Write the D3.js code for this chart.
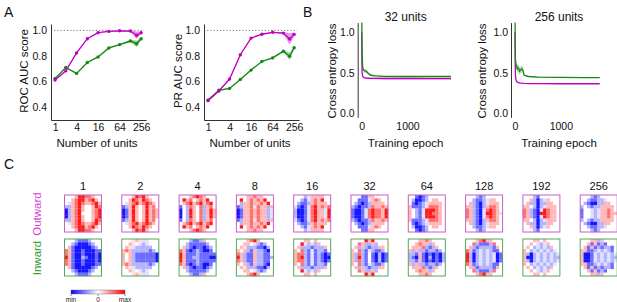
<!DOCTYPE html>
<html>
<head>
<meta charset="utf-8">
<script src="https://cdn.jsdelivr.net/npm/d3@7"></script>
<style>
  body { margin: 0; background: #fff; }
  svg { display: block; font-family: "Liberation Sans", Arial, sans-serif; }
</style>
</head>
<body>
<svg id="fig" width="617" height="302"></svg>
<script>
// ---- data ----
const unitCounts = [1, 2, 4, 8, 16, 32, 64, 128, 192, 256];
const unitTicks = [1, 4, 16, 64, 256];
const scoreTicks = [0.4, 0.6, 0.8, 1.0];

const rocOutward = [0.612, 0.684, 0.824, 0.935, 0.982, 0.992, 0.997, 0.995, 0.962, 0.982];
const rocOutwardSd = [0.004, 0.004, 0.004, 0.004, 0.003, 0.003, 0.003, 0.006, 0.03, 0.009];
const rocInward = [0.625, 0.71, 0.664, 0.749, 0.793, 0.863, 0.889, 0.917, 0.896, 0.935];
const rocInwardSd = [0.004, 0.004, 0.004, 0.004, 0.004, 0.004, 0.005, 0.01, 0.025, 0.01];

const prOutward = [0.451, 0.527, 0.62, 0.81, 0.94, 0.97, 0.985, 0.979, 0.933, 0.969];
const prOutwardSd = [0.004, 0.004, 0.004, 0.005, 0.004, 0.003, 0.003, 0.008, 0.045, 0.015];
const prInward = [0.457, 0.532, 0.547, 0.617, 0.69, 0.757, 0.785, 0.837, 0.798, 0.865];
const prInwardSd = [0.004, 0.004, 0.004, 0.004, 0.004, 0.004, 0.006, 0.01, 0.03, 0.012];

const lossTicks = [0, 0.5, 1.0];
const epochTicks = [0, 1000];

const epochs32 = [0, 5, 10, 20, 30, 50, 75, 100, 150, 200, 300, 500, 1000, 1500, 1950];
const loss32Inward = [1.4, 1.0, 0.75, 0.58, 0.55, 0.53, 0.52, 0.52, 0.49, 0.47, 0.462, 0.457, 0.455, 0.455, 0.455];
const loss32InwardSd = [0.02, 0.02, 0.02, 0.02, 0.02, 0.025, 0.025, 0.02, 0.012, 0.008, 0.005, 0.005, 0.005, 0.005, 0.005];
const loss32Outward = [1.0, 0.6, 0.5, 0.46, 0.45, 0.44, 0.437, 0.435, 0.433, 0.432, 0.431, 0.43, 0.43, 0.429, 0.429];
const loss32OutwardSd = [0.01, 0.01, 0.01, 0.008, 0.008, 0.008, 0.008, 0.01, 0.01, 0.01, 0.01, 0.012, 0.012, 0.012, 0.012];

const epochs256 = [0, 5, 10, 20, 30, 50, 75, 100, 150, 175, 200, 300, 500, 1000, 1500, 1850];
const loss256Inward = [1.4, 0.9, 0.66, 0.58, 0.6, 0.55, 0.56, 0.52, 0.55, 0.53, 0.47, 0.455, 0.447, 0.443, 0.442, 0.442];
const loss256InwardSd = [0.02, 0.03, 0.04, 0.04, 0.05, 0.05, 0.05, 0.05, 0.04, 0.04, 0.01, 0.006, 0.005, 0.005, 0.005, 0.005];
const loss256Outward = [1.0, 0.6, 0.47, 0.42, 0.4, 0.385, 0.378, 0.375, 0.372, 0.371, 0.37, 0.368, 0.366, 0.365, 0.365, 0.365];
const loss256OutwardSd = [0.01, 0.01, 0.008, 0.006, 0.005, 0.005, 0.004, 0.004, 0.004, 0.004, 0.004, 0.004, 0.004, 0.004, 0.004, 0.004];

// receptive field maps, 11x11, B b l w . q p r R = -1 .. +1
const mapLevels = { B: -0.92, b: -0.58, l: -0.3, w: -0.12, ".": 0, q: 0.12, p: 0.28, r: 0.56, R: 0.9 };
const mapLabels = ["1", "2", "4", "8", "16", "32", "64", "128", "192", "256"];

const outwardMaps = [
  ["...pRRrrp..", "..prRRprRp.", ".wprRrpprRp", "llprRp..pRr", "BlprRp..prR", "BlprR...prR", "BlprRp..prR", "llprRp..pRr", ".wprRrpprRp", "..prRRprRp.", "...pRRrrp.."],
  ["...pRrRp...", "..pRrpRrp..", ".wprRprRrp.", "blpRp.pRpr.", "BbpRp.pRprp", "BbpRp.pRprp", "BbpRp.pRprp", "blpRp.pRpr.", ".wprRprRrp.", "..pRrpRrp..", "...pRrRp..."],
  ["...prRrp...", ".Rpr.prpR..", ".prRprRprR.", "b.lrp.rlpr.", "B.lRp.rlpRp", "B.lRp.rlpRp", "B.lRp.rlpRp", "b.lrp.rlpr.", ".prRprRprR.", ".Rpr.prpR..", "...prRrp..."],
  ["...pprpp...", ".R.prprpR..", ".lpprpprpR.", "blpprqrpplp", "Bbpprprpplw", "Bbpprprpplw", "Bbpprprpplw", "blpprqrpplp", ".lpprpprpR.", ".R.prprpR..", "...pprpp..."],
  ["...lwpppp..", "..lbwprpR..", ".lbblprppp.", "wbBbwrRprpr", "lBBbwrRppwR", "lBBbwrRppwR", "lBBbwrRppwR", "wbBbwrRprpr", ".lbblprppp.", "..lbwprpR..", "...lwpppp.."],
  ["...bbpp....", "..bbbwprp..", ".lbBblpppp.", "lbBbblrpprp", "bBBbwrRrrpR", "bBBbwrRrrpR", "bBBbwrRrrpR", "lbBbblrpprp", ".lbBblpppp.", "..bbbwprp..", "...bbpp...."],
  ["..bBbl.....", ".lBBbl.pp..", ".bBblwpppp.", "pbbblwrrrp.", "p.lbwRRRrp.", "p.lbwRRrrp.", "p.lbwRRRrp.", "pbbblwrrrp.", ".bBblwpppp.", ".lBBbl.pp..", "..bBbl....."],
  ["...lbl.....", "..lbblwpp..", ".plbBlwppp.", "pplbBlprrp.", "rplbBwrRrp.", "rplbBwRRrpw", "rplbBwrRrp.", "pplbBlprrp.", ".plbBlwppp.", "..lbblwpp..", "...lbl....."],
  ["...lb......", "..plBlwp...", ".pllBllpp..", "pp.lBlwppp.", "rplbBwRrpp.", "rplbBRRrpp.", "rplbBwRrpp.", "pp.lBlwppp.", ".pllBllpp..", "..plBlwp...", "...lb......"],
  ["...lbl.....", "..lbbllw...", ".lbBBllpp..", "l.lbllpppp.", "b..wlwpprp.", "b..wlwpprpp", "b..wlwpprp.", "l.lbllpppp.", ".lbBBllpp..", "..lbbllw...", "...lbl....."]
];

const inwardMaps = [
  ["...lbbbl...", "..lbBBBbl..", ".pbBBBBBbl.", "rpbBBbBBBbb", "rpbBBbBBBbB", "RpbBBlbBBbB", "rpbBBbBBBbB", "rpbBBbBBBbb", ".pbBBBBBbl.", "..lbBBBbl..", "...lbbbl..."],
  ["...qpqww...", "..pq.wlw...", ".pqwlllll..", "prplllllbl.", "p.plbbbbbbB", "p.plbbbbbbB", "p.plbbbbbbB", "prplllllbl.", ".pqwlllll..", "..pq.wlw...", "...qpqww..."],
  ["...lbblp...", "..lbbbbbl..", ".plbBbbBbl.", "rpbBblbBBb.", "Rpbbblbbbbb", "RpbbllbbbBB", "Rpbbblbbbbb", "rpbBblbBBb.", ".plbBbbBbl.", "..lbbbbbl..", "...lbblp..."],
  ["...prRp....", "..pp.wlbl..", ".pqlllbbBl.", "p.plbpllbB.", "rplbbpllbb.", "Rplbbpllbbl", "rplbbpllbb.", "p.plbpllbB.", ".pqlllbbBl.", "..pp.wlbl..", "...prRp...."],
  ["...pp.p....", "..Rwlwlp...", ".plllblllp.", "p.rlbwbllb.", "prrlbwblbBb", "prRlbwblbBB", "prrlbwblbBb", "p.rlbwbllb.", ".plllblllp.", "..Rwlwlp...", "...pp.p...."],
  ["....RpR....", "..rpllpl...", ".plplbllpp.", "p.rlbwlbbl.", "plrlb.bBlBb", "plRlb.bBlBb", "plrlb.bBlBb", "p.rlbwlbbl.", ".plplbllpp.", "..rpllpl...", "....RpR...."],
  ["...pprp....", "..prpplp...", ".ppprlblp..", "plpllbllbl.", "llbpbBbBbBl", "lbBpbBlBbBl", "llbpbBbBbBl", "plpllbllbl.", ".ppprlblp..", "..prpplp...", "...pprp...."],
  ["...prRpp...", "..rlbbblr..", ".plbllllbp.", "rpblwlwlbb.", "RlBlwlwlwBb", "RlBlwlwlwBb", "RlBlwlwlwBb", "rpblwlwlbb.", ".plbllllbp.", "..rlbbblr..", "...prRpp..."],
  ["...pp.p....", "..p.wlwp...", ".p.lwlwlp..", "p.lwlwlwlw.", "plBlwlwlwlw", "pBBlwlwlwll", "plBlwlwlwlw", "p.lwlwlwlw.", ".p.lwlwlp..", "..p.wlwp...", "...pp.p...."],
  ["...pplp....", "..pbpblb...", ".pbpblbllb.", "ppbblwlwlb.", "pBBbwlwlwlw", "pBBbwlwlwll", "pBBbwlwlwlw", "ppbblwlwlb.", ".pbpblbllb.", "..pbpblb...", "...pplp...."]
];

// ---- styles ----
const outColor = "#bf00bf";
const inColor = "#138a13";
const axisColor = "#333";
const tickFont = "10.5px";
const labelFont = "11.5px";

const svg = d3.select("#fig");

function styleAxis(g) {
  g.select(".domain").attr("stroke", axisColor).attr("stroke-width", 1);
  g.selectAll("text").attr("fill", "#111").style("font-size", tickFont)
    .style("font-family", "'Liberation Sans', Arial, sans-serif");
}

// ---- panel A: score vs number of units ----
function drawScore(left, yLabel, labelX, outward, outwardSd, inward, inwardSd) {
  const x = d3.scaleLog().base(2).domain([0.77, 350]).range([left, left + 95]);
  const y = d3.scaleLinear().domain([0.3, 1.05]).range([120, 24]);
  const g = svg.append("g");

  g.append("line")
    .attr("x1", x.range()[0]).attr("x2", x(256) + 3)
    .attr("y1", y(1)).attr("y2", y(1))
    .attr("stroke", "#777").attr("stroke-width", 1).attr("stroke-dasharray", "1.2,2");

  const series = [
    { v: inward, sd: inwardSd, c: inColor },
    { v: outward, sd: outwardSd, c: outColor }
  ];
  series.forEach(s => {
    const rows = unitCounts.map((n, i) => ({ n, v: s.v[i], sd: s.sd[i] }));
    g.append("path").datum(rows)
      .attr("fill", s.c).attr("fill-opacity", 0.4)
      .attr("d", d3.area().x(d => x(d.n)).y0(d => y(d.v - d.sd)).y1(d => y(d.v + d.sd)));
    g.append("path").datum(rows)
      .attr("fill", "none").attr("stroke", s.c).attr("stroke-width", 1.3)
      .attr("d", d3.line().x(d => x(d.n)).y(d => y(d.v)));
    g.selectAll(null).data(rows).enter().append("circle")
      .attr("cx", d => x(d.n)).attr("cy", d => y(d.v)).attr("r", 1.7)
      .attr("fill", s.c);
  });

  g.append("g").attr("transform", `translate(${x.range()[0]},0)`)
    .call(d3.axisLeft(y).tickValues(scoreTicks).tickSize(0).tickSizeOuter(0).tickPadding(4)
      .tickFormat(d3.format(".1f")))
    .call(styleAxis);

  g.append("g").attr("transform", "translate(0,120)")
    .call(d3.axisBottom(x).tickValues(unitTicks).tickSize(0).tickSizeOuter(0).tickPadding(4)
      .tickFormat(d => d))
    .call(styleAxis);

  g.append("text").attr("transform", `translate(${labelX},71) rotate(-90)`)
    .attr("text-anchor", "middle").attr("dy", "0.35em")
    .style("font-size", labelFont).attr("fill", "#111").text(yLabel);
  g.append("text").attr("x", left + 46).attr("y", 147)
    .attr("text-anchor", "middle").style("font-size", labelFont).attr("fill", "#111")
    .text("Number of units");
}

drawScore(51, "ROC AUC score", 24, rocOutward, rocOutwardSd, rocInward, rocInwardSd);
drawScore(204, "PR AUC score", 178, prOutward, prOutwardSd, prInward, prInwardSd);

// ---- panel B: loss curves ----
function drawLoss(left, title, labelX, epochs, outward, outwardSd, inward, inwardSd, clipId) {
  const x = d3.scaleLinear().domain([-87, 2030]).range([left, left + 97]);
  const y = d3.scaleLinear().domain([-0.05, 1.12]).range([117.4, 22.6]);
  const g = svg.append("g");

  g.append("clipPath").attr("id", clipId).append("rect")
    .attr("x", left).attr("y", y.range()[1]).attr("width", 100).attr("height", y.range()[0] - y.range()[1]);

  const plot = g.append("g").attr("clip-path", `url(#${clipId})`);
  const series = [
    { v: outward, sd: outwardSd, c: outColor },
    { v: inward, sd: inwardSd, c: inColor }
  ];
  series.forEach(s => {
    const rows = epochs.map((e, i) => ({ e, v: s.v[i], sd: s.sd[i] }));
    plot.append("path").datum(rows)
      .attr("fill", s.c).attr("fill-opacity", 0.3)
      .attr("d", d3.area().x(d => x(d.e)).y0(d => y(d.v - d.sd)).y1(d => y(d.v + d.sd)));
    plot.append("path").datum(rows)
      .attr("fill", "none").attr("stroke", s.c).attr("stroke-width", 1.3)
      .attr("d", d3.line().x(d => x(d.e)).y(d => y(d.v)));
  });

  g.append("g").attr("transform", `translate(${left},0)`)
    .call(d3.axisLeft(y).tickValues(lossTicks).tickSize(0).tickSizeOuter(0).tickPadding(3)
      .tickFormat(d3.format(".1f")))
    .call(styleAxis);

  g.append("g").attr("transform", "translate(0,117.4)")
    .call(d3.axisBottom(x).tickValues(epochTicks).tickSize(0).tickSizeOuter(0).tickPadding(5)
      .tickFormat(d3.format("d")))
    .call(styleAxis)
    .call(a => a.select(".domain").remove());

  g.append("text").attr("x", left + 48).attr("y", 21)
    .attr("text-anchor", "middle").style("font-size", "12px").attr("fill", "#111").text(title);
  g.append("text").attr("transform", `translate(${labelX},71) rotate(-90)`)
    .attr("text-anchor", "middle").attr("dy", "0.35em")
    .style("font-size", labelFont).attr("fill", "#111").text("Cross entropy loss");
  g.append("text").attr("x", left + 48).attr("y", 147)
    .attr("text-anchor", "middle").style("font-size", labelFont).attr("fill", "#111")
    .text("Training epoch");
}

drawLoss(357.7, "32 units", 332, epochs32, loss32Outward, loss32OutwardSd, loss32Inward, loss32InwardSd, "clipB1");
drawLoss(511, "256 units", 482, epochs256, loss256Outward, loss256OutwardSd, loss256Inward, loss256InwardSd, "clipB2");

// ---- panel C: receptive field maps ----
const mapColor = d3.scaleLinear().domain([-1, 0, 1]).range(["#0000ff", "#ffffff", "#ff0000"]);
const col = d3.scalePoint().domain(mapLabels).range([83, 598.7]);
const cell = d3.scaleBand().domain(d3.range(11)).range([0, 37]);
const boxSize = 37;

const gC = svg.append("g");
gC.selectAll(".maptitle").data(mapLabels).enter().append("text")
  .attr("x", d => col(d)).attr("y", 190)
  .attr("text-anchor", "middle").style("font-size", "11px").attr("fill", "#111")
  .text(d => d);

function drawMaps(maps, top, stroke) {
  maps.forEach((rows, k) => {
    const g = gC.append("g").attr("transform", `translate(${col(mapLabels[k]) - boxSize / 2},${top})`);
    const cells = [];
    rows.forEach((r, i) => r.split("").forEach((ch, j) => cells.push({ i, j, v: mapLevels[ch] })));
    g.selectAll("rect.cell").data(cells).enter().append("rect")
      .attr("x", d => cell(d.j)).attr("y", d => cell(d.i))
      .attr("width", cell.bandwidth() + 0.2).attr("height", cell.bandwidth() + 0.2)
      .attr("fill", d => mapColor(d.v));
    g.append("rect").attr("x", 0).attr("y", 0).attr("width", boxSize).attr("height", boxSize)
      .attr("fill", "none").attr("stroke", stroke).attr("stroke-width", 1);
  });
}
drawMaps(outwardMaps, 195, "#c760c7");
drawMaps(inwardMaps, 239, "#5aa55a");

gC.append("text").attr("transform", "translate(37,214) rotate(-90)")
  .attr("text-anchor", "middle").attr("dy", "0.35em").style("font-size", "11.5px")
  .attr("fill", "#d63fd6").text("Outward");
gC.append("text").attr("transform", "translate(37,258) rotate(-90)")
  .attr("text-anchor", "middle").attr("dy", "0.35em").style("font-size", "11.5px")
  .attr("fill", "#2f9a2f").text("Inward");

// colorbar
const cbar = d3.scaleLinear().domain([-1, 1]).range([71, 125]);
const grad = svg.append("defs").append("linearGradient").attr("id", "bwr");
[-1, 0, 1].forEach(v => grad.append("stop")
  .attr("offset", `${(v + 1) * 50}%`).attr("stop-color", mapColor(v)));
gC.append("rect").attr("x", cbar(-1)).attr("y", 290).attr("width", cbar(1) - cbar(-1)).attr("height", 4)
  .attr("fill", "url(#bwr)").attr("stroke", "#666").attr("stroke-width", 0.4);
const cbarTicks = [{ v: -1, t: "min" }, { v: 0, t: "0" }, { v: 1, t: "max" }];
gC.selectAll(".cbt").data(cbarTicks).enter().append("line")
  .attr("x1", d => cbar(d.v)).attr("x2", d => cbar(d.v)).attr("y1", 294).attr("y2", 296)
  .attr("stroke", "#444").attr("stroke-width", 0.6);
gC.selectAll(".cbl").data(cbarTicks).enter().append("text")
  .attr("x", d => cbar(d.v)).attr("y", 301.5).attr("text-anchor", "middle")
  .style("font-size", "6.5px").attr("fill", "#222").text(d => d.t);

// panel letters
[["A", 4, 17], ["B", 303, 17], ["C", 4, 169]].forEach(([t, x, y]) =>
  svg.append("text").attr("x", x).attr("y", y).style("font-size", "14px").attr("fill", "#111").text(t));
</script>
</body>
</html>
